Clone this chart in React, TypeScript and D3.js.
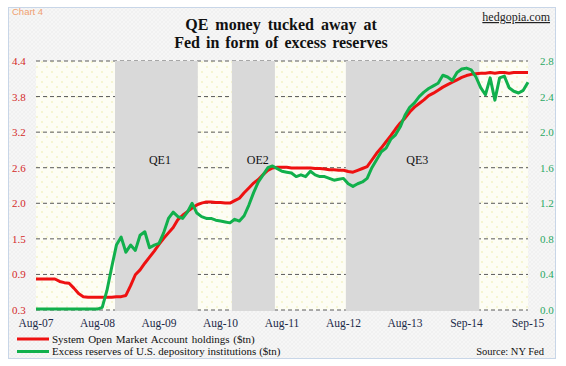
import * as d3 from 'd3'

// x axis labels, one every 13 points (points are ~4 weeks apart)
const tickLabels = ['Aug-07', 'Aug-08', 'Aug-09', 'Aug-10', 'Aug-11', 'Aug-12', 'Aug-13', 'Sep-14', 'Sep-15']
const leftTickLabels = ['0.3', '0.9', '1.5', '2.0', '2.6', '3.2', '3.8', '4.4']
const rightTickValues = [0, 0.4, 0.8, 1.2, 1.6, 2.0, 2.4, 2.8]

// System Open Market Account holdings ($tn), left axis
const somaHoldings = [
  0.81, 0.81, 0.81, 0.81, 0.81, 0.77, 0.75, 0.74, 0.66, 0.57,
  0.52, 0.51, 0.51, 0.51, 0.51, 0.51, 0.51, 0.52, 0.52, 0.54,
  0.70, 0.88, 0.96, 1.07, 1.17, 1.27, 1.38, 1.48, 1.57, 1.66,
  1.79, 1.86, 1.92, 1.98, 2.03, 2.06, 2.08, 2.08, 2.07, 2.07,
  2.06, 2.06, 2.10, 2.14, 2.23, 2.31, 2.39, 2.45, 2.53, 2.60,
  2.64, 2.65, 2.65, 2.65, 2.64, 2.64, 2.64, 2.64, 2.64, 2.63,
  2.63, 2.62, 2.61, 2.61, 2.60, 2.60, 2.58, 2.57, 2.60, 2.63,
  2.66, 2.77, 2.88, 2.97, 3.07, 3.17, 3.28, 3.38, 3.46, 3.56,
  3.64, 3.70, 3.76, 3.83, 3.87, 3.92, 3.97, 4.01, 4.05, 4.09,
  4.13, 4.16, 4.18, 4.19, 4.20, 4.20, 4.21, 4.20, 4.21, 4.21,
  4.20, 4.21, 4.21, 4.21, 4.21,
]

// Excess reserves of U.S. depository institutions ($tn), right axis
const excessReserves = [
  0.01, 0.01, 0.01, 0.01, 0.01, 0.01, 0.01, 0.01, 0.01, 0.01,
  0.01, 0.01, 0.01, 0.01, 0.03, 0.22, 0.48, 0.73, 0.82, 0.65,
  0.73, 0.67, 0.84, 0.88, 0.70, 0.73, 0.75, 0.87, 1.03, 1.10,
  1.05, 1.03, 1.10, 1.20, 1.09, 1.05, 1.03, 1.03, 1.01, 1.00,
  0.99, 0.98, 1.02, 1.00, 1.06, 1.18, 1.32, 1.44, 1.52, 1.60,
  1.62, 1.59, 1.56, 1.55, 1.54, 1.50, 1.52, 1.50, 1.56, 1.52,
  1.50, 1.50, 1.48, 1.46, 1.47, 1.48, 1.42, 1.39, 1.42, 1.44,
  1.48, 1.60, 1.69, 1.78, 1.82, 1.92, 1.97, 2.06, 2.19, 2.28,
  2.33, 2.40, 2.45, 2.49, 2.52, 2.55, 2.64, 2.62, 2.58, 2.67,
  2.71, 2.72, 2.70, 2.62, 2.50, 2.42, 2.61, 2.36, 2.61, 2.63,
  2.50, 2.46, 2.44, 2.47, 2.56,
]

// QE programmes, in point index units
const qeLabels = ['QE1', 'OE2', 'QE3']
const qeStart = [16.7, 41.4, 65.5]
const qeEnd = [34.2, 50.5, 93.7]
const qeLabelAt = [26.2, 46.9, 80.6]

const W = 566
const H = 366
const serif = '"Liberation Serif", "Times New Roman", serif'

export default function App() {
  const left = 36
  const right = 528
  const top = 61
  const bottom = 310

  const x = d3.scaleLinear().domain([0, somaHoldings.length - 1]).range([left, right])
  const yL = d3.scaleLinear().domain([0.3, 4.4]).range([bottom, top])
  const yR = d3.scaleLinear().domain([0, 2.8]).range([bottom, top])

  const redLine = d3.line<number>().x((_, i) => x(i)).y(d => yL(d))
  const greenLine = d3.line<number>().x((_, i) => x(i)).y(d => yR(d))

  return (
    <svg width={W} height={H} style={{ position: 'absolute', left: 0, top: 0 }}>
      <defs>
        <pattern id="outerPat" width="4" height="4" patternUnits="userSpaceOnUse">
          <rect width="4" height="4" fill="#f6f6f6" />
          <path d="M0,4 L4,0" stroke="#ececec" strokeWidth="0.6" />
          <path d="M0,0 L4,4" stroke="#efefef" strokeWidth="0.6" />
        </pattern>
        <pattern id="plotPat" width="10" height="10" patternUnits="userSpaceOnUse">
          <rect width="10" height="10" fill="#fdfdf4" />
          <circle cx="2" cy="2" r="0.8" fill="#ebeba8" />
          <circle cx="7" cy="7" r="0.8" fill="#ebeba8" />
        </pattern>
      </defs>

      <rect x={0} y={0} width={W} height={H} fill="#fff" />
      <rect x={8.5} y={7.5} width={547} height={351} fill="url(#outerPat)" stroke="#c8d6e8" strokeWidth={1} />

      <text x={12} y={15} fontFamily='"Liberation Sans", Arial, sans-serif' fontSize={9.5} fill="#f0a070">Chart 4</text>
      <text x={550} y={21} textAnchor="end" fontFamily={serif} fontSize={12} fill="#222" textDecoration="underline">hedgopia.com</text>

      <text x={281} y={30} textAnchor="middle" fontFamily={serif} fontSize={16} fontWeight="bold" wordSpacing={3} fill="#111">QE money tucked away at</text>
      <text x={281} y={48} textAnchor="middle" fontFamily={serif} fontSize={16} fontWeight="bold" wordSpacing={2} fill="#111">Fed in form of excess reserves</text>

      {/* plot background */}
      <rect x={left} y={top} width={right - left} height={bottom - top} fill="url(#plotPat)" />

      {/* dashed gridlines */}
      {rightTickValues.map(v => (
        <line key={v} x1={left} x2={right} y1={yR(v)} y2={yR(v)} stroke="#5a5a5a" strokeWidth={1} strokeDasharray="4,3" />
      ))}

      {/* QE shading */}
      {qeLabels.map((lab, i) => (
        <rect key={lab} x={x(qeStart[i])} y={top} width={x(qeEnd[i]) - x(qeStart[i])} height={bottom - top + 1} fill="#d9d9d9" />
      ))}
      {qeLabels.map((lab, i) => (
        <text key={lab + 't'} x={x(qeLabelAt[i])} y={164} textAnchor="middle" fontFamily={serif} fontSize={12} fill="#111">{lab}</text>
      ))}

      {/* axis labels */}
      {leftTickLabels.map((lab, i) => (
        <text key={lab} x={12} y={yR(rightTickValues[i]) + 4} fontFamily={serif} fontSize={11} fill="#d42a2a">{lab}</text>
      ))}
      {rightTickValues.map(v => (
        <text key={v} x={540} y={yR(v) + 4} fontFamily={serif} fontSize={11} fill="#2aa864">{v.toFixed(1)}</text>
      ))}
      {tickLabels.map((lab, i) => (
        <text key={lab} x={x(i * 13)} y={327} textAnchor="middle" fontFamily={serif} fontSize={11.5} fill="#1c2a48">{lab}</text>
      ))}

      {/* series */}
      <path d={redLine(somaHoldings) ?? ''} fill="none" stroke="#ee1111" strokeWidth={3} strokeLinejoin="round" />
      <path d={greenLine(excessReserves) ?? ''} fill="none" stroke="#11b04c" strokeWidth={3} strokeLinejoin="round" />

      {/* legend */}
      <line x1={17} x2={49} y1={339} y2={339} stroke="#ee1111" strokeWidth={3} />
      <text x={52} y={342.5} fontFamily={serif} fontSize={11} fill="#111" wordSpacing={1}>System Open Market Account holdings ($tn)</text>
      <line x1={17} x2={49} y1={351.5} y2={351.5} stroke="#11b04c" strokeWidth={3} />
      <text x={52} y={355} fontFamily={serif} fontSize={11} fill="#111">Excess reserves of U.S. depository institutions ($tn)</text>
      <text x={544} y={355} textAnchor="end" fontFamily={serif} fontSize={10.5} fill="#111">Source: NY Fed</text>
    </svg>
  )
}
